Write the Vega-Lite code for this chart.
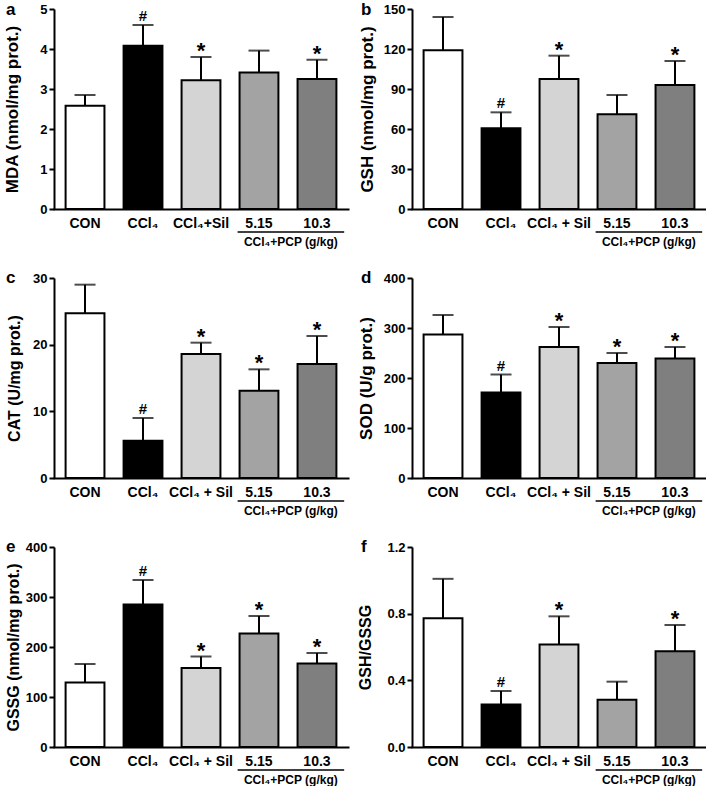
{
  "$schema": "https://vega.github.io/schema/vega-lite/v6.json",
  "background": "white",
  "padding": {"left": 2, "top": 1, "right": 0, "bottom": 0},
  "columns": 2,
  "spacing": {"row": 69, "column": 64},
  "bounds": "flush",
  "resolve": {"scale": {"x": "independent", "y": "independent", "fill": "independent"}},
  "datasets": {
    "a": [
      {"group": "CON", "mean": 2.58, "upper": 2.85, "sig": ""},
      {"group": "CCl₄", "mean": 4.08, "upper": 4.6, "sig": "#"},
      {"group": "CCl₄+Sil", "mean": 3.22, "upper": 3.8, "sig": "*"},
      {"group": "5.15", "mean": 3.41, "upper": 3.96, "sig": ""},
      {"group": "10.3", "mean": 3.25, "upper": 3.73, "sig": "*"}
    ],
    "b": [
      {"group": "CON", "mean": 119, "upper": 144, "sig": ""},
      {"group": "CCl₄", "mean": 60.5, "upper": 72.5, "sig": "#"},
      {"group": "CCl₄ + Sil", "mean": 97.5, "upper": 115, "sig": "*"},
      {"group": "5.15", "mean": 71, "upper": 85.5, "sig": ""},
      {"group": "10.3", "mean": 93, "upper": 111, "sig": "*"}
    ],
    "c": [
      {"group": "CON", "mean": 24.7, "upper": 29.0, "sig": ""},
      {"group": "CCl₄", "mean": 5.6, "upper": 9.0, "sig": "#"},
      {"group": "CCl₄ + Sil", "mean": 18.6, "upper": 20.3, "sig": "*"},
      {"group": "5.15", "mean": 13.1, "upper": 16.3, "sig": "*"},
      {"group": "10.3", "mean": 17.1, "upper": 21.3, "sig": "*"}
    ],
    "d": [
      {"group": "CON", "mean": 287, "upper": 326, "sig": ""},
      {"group": "CCl₄", "mean": 171, "upper": 207, "sig": "#"},
      {"group": "CCl₄ + Sil", "mean": 262, "upper": 302, "sig": "*"},
      {"group": "5.15", "mean": 230, "upper": 250, "sig": "*"},
      {"group": "10.3", "mean": 239, "upper": 262, "sig": "*"}
    ],
    "e": [
      {"group": "CON", "mean": 129, "upper": 166, "sig": ""},
      {"group": "CCl₄", "mean": 285, "upper": 334, "sig": "#"},
      {"group": "CCl₄ + Sil", "mean": 158, "upper": 181, "sig": "*"},
      {"group": "5.15", "mean": 227, "upper": 262, "sig": "*"},
      {"group": "10.3", "mean": 167, "upper": 188, "sig": "*"}
    ],
    "f": [
      {"group": "CON", "mean": 0.772, "upper": 1.009, "sig": ""},
      {"group": "CCl₄", "mean": 0.255, "upper": 0.336, "sig": "#"},
      {"group": "CCl₄ + Sil", "mean": 0.615, "upper": 0.784, "sig": "*"},
      {"group": "5.15", "mean": 0.283, "upper": 0.392, "sig": ""},
      {"group": "10.3", "mean": 0.575, "upper": 0.732, "sig": "*"}
    ],
    "bracket": [
      {"from": "5.15", "to": "10.3", "label": "CCl₄+PCP (g/kg)"}
    ]
  },
  "concat": [
    {
      "width": 294, "height": 200,
      "title": {"text": "a", "anchor": "start", "frame": "group", "dx": -48, "dy": 29, "offset": 0, "baseline": "alphabetic", "fontSize": 17, "fontWeight": "bold"},
      "data": {"name": "a"},
      "layer": [
        {"mark": {"type": "rule", "strokeWidth": 2, "color": "black"},
         "encoding": {
           "x": {"field": "group", "type": "nominal", "scale": {"domain": ["CON", "CCl₄", "CCl₄+Sil", "5.15", "10.3"], "paddingInner": 0.33, "paddingOuter": 0.2}},
           "y": {"field": "mean", "type": "quantitative", "scale": {"domain": [0, 5], "nice": false}, "axis": {"values": [0, 1, 2, 3, 4, 5], "tickCount": 6, "labelOverlap": false, "title": "MDA (nmol/mg prot.)", "titleX": -33, "titleFontSize": 17}},
           "y2": {"field": "upper"}}},
        {"mark": {"type": "tick", "orient": "horizontal", "size": 21, "thickness": 2, "color": "black"},
         "encoding": {"x": {"field": "group", "type": "nominal"}, "y": {"field": "upper", "type": "quantitative"}}},
        {"mark": {"type": "bar", "stroke": "black", "strokeWidth": 2},
         "encoding": {"x": {"field": "group", "type": "nominal"}, "y": {"field": "mean", "type": "quantitative"},
           "fill": {"field": "group", "type": "nominal", "scale": {"domain": ["CON", "CCl₄", "CCl₄+Sil", "5.15", "10.3"], "range": ["#ffffff", "#000000", "#d4d4d4", "#a3a3a3", "#7f7f7f"]}, "legend": null}}},
        {"transform": [{"filter": "datum.sig == '#'"}],
         "mark": {"type": "text", "fontSize": 15, "fontWeight": "bold", "baseline": "alphabetic", "dy": -4},
         "encoding": {"x": {"field": "group", "type": "nominal"}, "y": {"field": "upper", "type": "quantitative"}, "text": {"field": "sig"}}},
        {"transform": [{"filter": "datum.sig == '*'"}],
         "mark": {"type": "text", "fontSize": 22, "fontWeight": "bold", "baseline": "alphabetic", "dy": 1},
         "encoding": {"x": {"field": "group", "type": "nominal"}, "y": {"field": "upper", "type": "quantitative"}, "text": {"field": "sig"}}},
        {"data": {"name": "bracket"},
         "mark": {"type": "rule", "strokeWidth": 1.5, "color": "black", "yOffset": 23},
         "encoding": {"x": {"field": "from", "type": "nominal", "bandPosition": -0.05}, "x2": {"field": "to", "bandPosition": 1.2}, "y": {"datum": 0}}},
        {"data": {"name": "bracket"},
         "mark": {"type": "text", "fontSize": 12, "fontWeight": "bold", "baseline": "alphabetic", "yOffset": 37},
         "encoding": {"x": {"field": "from", "type": "nominal", "bandPosition": 1.32}, "y": {"datum": 0}, "text": {"field": "label"}}}
      ]
    },
    {
      "width": 294, "height": 200,
      "title": {"text": "b", "anchor": "start", "frame": "group", "dx": -51, "dy": 29, "offset": 0, "baseline": "alphabetic", "fontSize": 17, "fontWeight": "bold"},
      "data": {"name": "b"},
      "layer": [
        {"mark": {"type": "rule", "strokeWidth": 2, "color": "black"},
         "encoding": {
           "x": {"field": "group", "type": "nominal", "scale": {"domain": ["CON", "CCl₄", "CCl₄ + Sil", "5.15", "10.3"], "paddingInner": 0.33, "paddingOuter": 0.2}},
           "y": {"field": "mean", "type": "quantitative", "scale": {"domain": [0, 150], "nice": false}, "axis": {"values": [0, 30, 60, 90, 120, 150], "tickCount": 6, "labelOverlap": false, "title": "GSH (nmol/mg prot.)", "titleX": -36, "titleFontSize": 17}},
           "y2": {"field": "upper"}}},
        {"mark": {"type": "tick", "orient": "horizontal", "size": 21, "thickness": 2, "color": "black"},
         "encoding": {"x": {"field": "group", "type": "nominal"}, "y": {"field": "upper", "type": "quantitative"}}},
        {"mark": {"type": "bar", "stroke": "black", "strokeWidth": 2},
         "encoding": {"x": {"field": "group", "type": "nominal"}, "y": {"field": "mean", "type": "quantitative"},
           "fill": {"field": "group", "type": "nominal", "scale": {"domain": ["CON", "CCl₄", "CCl₄ + Sil", "5.15", "10.3"], "range": ["#ffffff", "#000000", "#d4d4d4", "#a3a3a3", "#7f7f7f"]}, "legend": null}}},
        {"transform": [{"filter": "datum.sig == '#'"}],
         "mark": {"type": "text", "fontSize": 15, "fontWeight": "bold", "baseline": "alphabetic", "dy": -4},
         "encoding": {"x": {"field": "group", "type": "nominal"}, "y": {"field": "upper", "type": "quantitative"}, "text": {"field": "sig"}}},
        {"transform": [{"filter": "datum.sig == '*'"}],
         "mark": {"type": "text", "fontSize": 22, "fontWeight": "bold", "baseline": "alphabetic", "dy": 1},
         "encoding": {"x": {"field": "group", "type": "nominal"}, "y": {"field": "upper", "type": "quantitative"}, "text": {"field": "sig"}}},
        {"data": {"name": "bracket"},
         "mark": {"type": "rule", "strokeWidth": 1.5, "color": "black", "yOffset": 23},
         "encoding": {"x": {"field": "from", "type": "nominal", "bandPosition": -0.05}, "x2": {"field": "to", "bandPosition": 1.2}, "y": {"datum": 0}}},
        {"data": {"name": "bracket"},
         "mark": {"type": "text", "fontSize": 12, "fontWeight": "bold", "baseline": "alphabetic", "yOffset": 37},
         "encoding": {"x": {"field": "from", "type": "nominal", "bandPosition": 1.32}, "y": {"datum": 0}, "text": {"field": "label"}}}
      ]
    },
    {
      "width": 294, "height": 200,
      "title": {"text": "c", "anchor": "start", "frame": "group", "dx": -48, "dy": 28, "offset": 0, "baseline": "alphabetic", "fontSize": 17, "fontWeight": "bold"},
      "data": {"name": "c"},
      "layer": [
        {"mark": {"type": "rule", "strokeWidth": 2, "color": "black"},
         "encoding": {
           "x": {"field": "group", "type": "nominal", "scale": {"domain": ["CON", "CCl₄", "CCl₄ + Sil", "5.15", "10.3"], "paddingInner": 0.33, "paddingOuter": 0.2}},
           "y": {"field": "mean", "type": "quantitative", "scale": {"domain": [0, 30], "nice": false}, "axis": {"values": [0, 10, 20, 30], "labelOverlap": false, "title": "CAT (U/mg prot.)", "titleX": -32, "titleFontSize": 16}},
           "y2": {"field": "upper"}}},
        {"mark": {"type": "tick", "orient": "horizontal", "size": 21, "thickness": 2, "color": "black"},
         "encoding": {"x": {"field": "group", "type": "nominal"}, "y": {"field": "upper", "type": "quantitative"}}},
        {"mark": {"type": "bar", "stroke": "black", "strokeWidth": 2},
         "encoding": {"x": {"field": "group", "type": "nominal"}, "y": {"field": "mean", "type": "quantitative"},
           "fill": {"field": "group", "type": "nominal", "scale": {"domain": ["CON", "CCl₄", "CCl₄ + Sil", "5.15", "10.3"], "range": ["#ffffff", "#000000", "#d4d4d4", "#a3a3a3", "#7f7f7f"]}, "legend": null}}},
        {"transform": [{"filter": "datum.sig == '#'"}],
         "mark": {"type": "text", "fontSize": 15, "fontWeight": "bold", "baseline": "alphabetic", "dy": -4},
         "encoding": {"x": {"field": "group", "type": "nominal"}, "y": {"field": "upper", "type": "quantitative"}, "text": {"field": "sig"}}},
        {"transform": [{"filter": "datum.sig == '*'"}],
         "mark": {"type": "text", "fontSize": 22, "fontWeight": "bold", "baseline": "alphabetic", "dy": 1},
         "encoding": {"x": {"field": "group", "type": "nominal"}, "y": {"field": "upper", "type": "quantitative"}, "text": {"field": "sig"}}},
        {"data": {"name": "bracket"},
         "mark": {"type": "rule", "strokeWidth": 1.5, "color": "black", "yOffset": 23},
         "encoding": {"x": {"field": "from", "type": "nominal", "bandPosition": -0.05}, "x2": {"field": "to", "bandPosition": 1.2}, "y": {"datum": 0}}},
        {"data": {"name": "bracket"},
         "mark": {"type": "text", "fontSize": 12, "fontWeight": "bold", "baseline": "alphabetic", "yOffset": 37},
         "encoding": {"x": {"field": "from", "type": "nominal", "bandPosition": 1.32}, "y": {"datum": 0}, "text": {"field": "label"}}}
      ]
    },
    {
      "width": 294, "height": 200,
      "title": {"text": "d", "anchor": "start", "frame": "group", "dx": -51, "dy": 28, "offset": 0, "baseline": "alphabetic", "fontSize": 17, "fontWeight": "bold"},
      "data": {"name": "d"},
      "layer": [
        {"mark": {"type": "rule", "strokeWidth": 2, "color": "black"},
         "encoding": {
           "x": {"field": "group", "type": "nominal", "scale": {"domain": ["CON", "CCl₄", "CCl₄ + Sil", "5.15", "10.3"], "paddingInner": 0.33, "paddingOuter": 0.2}},
           "y": {"field": "mean", "type": "quantitative", "scale": {"domain": [0, 400], "nice": false}, "axis": {"values": [0, 100, 200, 300, 400], "labelOverlap": false, "title": "SOD (U/g prot.)", "titleX": -37, "titleFontSize": 17}},
           "y2": {"field": "upper"}}},
        {"mark": {"type": "tick", "orient": "horizontal", "size": 21, "thickness": 2, "color": "black"},
         "encoding": {"x": {"field": "group", "type": "nominal"}, "y": {"field": "upper", "type": "quantitative"}}},
        {"mark": {"type": "bar", "stroke": "black", "strokeWidth": 2},
         "encoding": {"x": {"field": "group", "type": "nominal"}, "y": {"field": "mean", "type": "quantitative"},
           "fill": {"field": "group", "type": "nominal", "scale": {"domain": ["CON", "CCl₄", "CCl₄ + Sil", "5.15", "10.3"], "range": ["#ffffff", "#000000", "#d4d4d4", "#a3a3a3", "#7f7f7f"]}, "legend": null}}},
        {"transform": [{"filter": "datum.sig == '#'"}],
         "mark": {"type": "text", "fontSize": 15, "fontWeight": "bold", "baseline": "alphabetic", "dy": -4},
         "encoding": {"x": {"field": "group", "type": "nominal"}, "y": {"field": "upper", "type": "quantitative"}, "text": {"field": "sig"}}},
        {"transform": [{"filter": "datum.sig == '*'"}],
         "mark": {"type": "text", "fontSize": 22, "fontWeight": "bold", "baseline": "alphabetic", "dy": 1},
         "encoding": {"x": {"field": "group", "type": "nominal"}, "y": {"field": "upper", "type": "quantitative"}, "text": {"field": "sig"}}},
        {"data": {"name": "bracket"},
         "mark": {"type": "rule", "strokeWidth": 1.5, "color": "black", "yOffset": 23},
         "encoding": {"x": {"field": "from", "type": "nominal", "bandPosition": -0.05}, "x2": {"field": "to", "bandPosition": 1.2}, "y": {"datum": 0}}},
        {"data": {"name": "bracket"},
         "mark": {"type": "text", "fontSize": 12, "fontWeight": "bold", "baseline": "alphabetic", "yOffset": 37},
         "encoding": {"x": {"field": "from", "type": "nominal", "bandPosition": 1.32}, "y": {"datum": 0}, "text": {"field": "label"}}}
      ]
    },
    {
      "width": 294, "height": 200,
      "title": {"text": "e", "anchor": "start", "frame": "group", "dx": -48, "dy": 28, "offset": 0, "baseline": "alphabetic", "fontSize": 17, "fontWeight": "bold"},
      "data": {"name": "e"},
      "layer": [
        {"mark": {"type": "rule", "strokeWidth": 2, "color": "black"},
         "encoding": {
           "x": {"field": "group", "type": "nominal", "scale": {"domain": ["CON", "CCl₄", "CCl₄ + Sil", "5.15", "10.3"], "paddingInner": 0.33, "paddingOuter": 0.2}},
           "y": {"field": "mean", "type": "quantitative", "scale": {"domain": [0, 400], "nice": false}, "axis": {"values": [0, 100, 200, 300, 400], "labelOverlap": false, "title": "GSSG (nmol/mg prot.)", "titleX": -33, "titleFontSize": 16}},
           "y2": {"field": "upper"}}},
        {"mark": {"type": "tick", "orient": "horizontal", "size": 21, "thickness": 2, "color": "black"},
         "encoding": {"x": {"field": "group", "type": "nominal"}, "y": {"field": "upper", "type": "quantitative"}}},
        {"mark": {"type": "bar", "stroke": "black", "strokeWidth": 2},
         "encoding": {"x": {"field": "group", "type": "nominal"}, "y": {"field": "mean", "type": "quantitative"},
           "fill": {"field": "group", "type": "nominal", "scale": {"domain": ["CON", "CCl₄", "CCl₄ + Sil", "5.15", "10.3"], "range": ["#ffffff", "#000000", "#d4d4d4", "#a3a3a3", "#7f7f7f"]}, "legend": null}}},
        {"transform": [{"filter": "datum.sig == '#'"}],
         "mark": {"type": "text", "fontSize": 15, "fontWeight": "bold", "baseline": "alphabetic", "dy": -4},
         "encoding": {"x": {"field": "group", "type": "nominal"}, "y": {"field": "upper", "type": "quantitative"}, "text": {"field": "sig"}}},
        {"transform": [{"filter": "datum.sig == '*'"}],
         "mark": {"type": "text", "fontSize": 22, "fontWeight": "bold", "baseline": "alphabetic", "dy": 1},
         "encoding": {"x": {"field": "group", "type": "nominal"}, "y": {"field": "upper", "type": "quantitative"}, "text": {"field": "sig"}}},
        {"data": {"name": "bracket"},
         "mark": {"type": "rule", "strokeWidth": 1.5, "color": "black", "yOffset": 23},
         "encoding": {"x": {"field": "from", "type": "nominal", "bandPosition": -0.05}, "x2": {"field": "to", "bandPosition": 1.2}, "y": {"datum": 0}}},
        {"data": {"name": "bracket"},
         "mark": {"type": "text", "fontSize": 12, "fontWeight": "bold", "baseline": "alphabetic", "yOffset": 37},
         "encoding": {"x": {"field": "from", "type": "nominal", "bandPosition": 1.32}, "y": {"datum": 0}, "text": {"field": "label"}}}
      ]
    },
    {
      "width": 294, "height": 200,
      "title": {"text": "f", "anchor": "start", "frame": "group", "dx": -51, "dy": 28, "offset": 0, "baseline": "alphabetic", "fontSize": 17, "fontWeight": "bold"},
      "data": {"name": "f"},
      "layer": [
        {"mark": {"type": "rule", "strokeWidth": 2, "color": "black"},
         "encoding": {
           "x": {"field": "group", "type": "nominal", "scale": {"domain": ["CON", "CCl₄", "CCl₄ + Sil", "5.15", "10.3"], "paddingInner": 0.33, "paddingOuter": 0.2}},
           "y": {"field": "mean", "type": "quantitative", "scale": {"domain": [0, 1.2], "nice": false}, "axis": {"values": [0, 0.4, 0.8, 1.2], "labelOverlap": false, "format": ".1f", "title": "GSH/GSSG", "titleX": -39, "titleFontSize": 16}},
           "y2": {"field": "upper"}}},
        {"mark": {"type": "tick", "orient": "horizontal", "size": 21, "thickness": 2, "color": "black"},
         "encoding": {"x": {"field": "group", "type": "nominal"}, "y": {"field": "upper", "type": "quantitative"}}},
        {"mark": {"type": "bar", "stroke": "black", "strokeWidth": 2},
         "encoding": {"x": {"field": "group", "type": "nominal"}, "y": {"field": "mean", "type": "quantitative"},
           "fill": {"field": "group", "type": "nominal", "scale": {"domain": ["CON", "CCl₄", "CCl₄ + Sil", "5.15", "10.3"], "range": ["#ffffff", "#000000", "#d4d4d4", "#a3a3a3", "#7f7f7f"]}, "legend": null}}},
        {"transform": [{"filter": "datum.sig == '#'"}],
         "mark": {"type": "text", "fontSize": 15, "fontWeight": "bold", "baseline": "alphabetic", "dy": -4},
         "encoding": {"x": {"field": "group", "type": "nominal"}, "y": {"field": "upper", "type": "quantitative"}, "text": {"field": "sig"}}},
        {"transform": [{"filter": "datum.sig == '*'"}],
         "mark": {"type": "text", "fontSize": 22, "fontWeight": "bold", "baseline": "alphabetic", "dy": 1},
         "encoding": {"x": {"field": "group", "type": "nominal"}, "y": {"field": "upper", "type": "quantitative"}, "text": {"field": "sig"}}},
        {"data": {"name": "bracket"},
         "mark": {"type": "rule", "strokeWidth": 1.5, "color": "black", "yOffset": 23},
         "encoding": {"x": {"field": "from", "type": "nominal", "bandPosition": -0.05}, "x2": {"field": "to", "bandPosition": 1.2}, "y": {"datum": 0}}},
        {"data": {"name": "bracket"},
         "mark": {"type": "text", "fontSize": 12, "fontWeight": "bold", "baseline": "alphabetic", "yOffset": 37},
         "encoding": {"x": {"field": "from", "type": "nominal", "bandPosition": 1.32}, "y": {"datum": 0}, "text": {"field": "label"}}}
      ]
    }
  ],
  "config": {
    "font": "Liberation Sans",
    "view": {"stroke": null},
    "axis": {"grid": false, "domainColor": "black", "domainWidth": 2, "tickColor": "black", "tickWidth": 2, "labelColor": "black", "titleColor": "black", "labelFontWeight": "bold", "titleFontWeight": "bold", "labelFont": "Liberation Sans", "titleFont": "Liberation Sans"},
    "axisX": {"ticks": false, "labelAngle": 0, "labelFontSize": 14, "labelPadding": 7, "title": null, "domainCap": "square"},
    "axisY": {"tickSize": 5, "labelFontSize": 13, "labelPadding": 2, "titleFontSize": 16, "titleBaseline": "bottom", "labelOverlap": false},
    "title": {"color": "black", "font": "Liberation Sans"}
  }
}
